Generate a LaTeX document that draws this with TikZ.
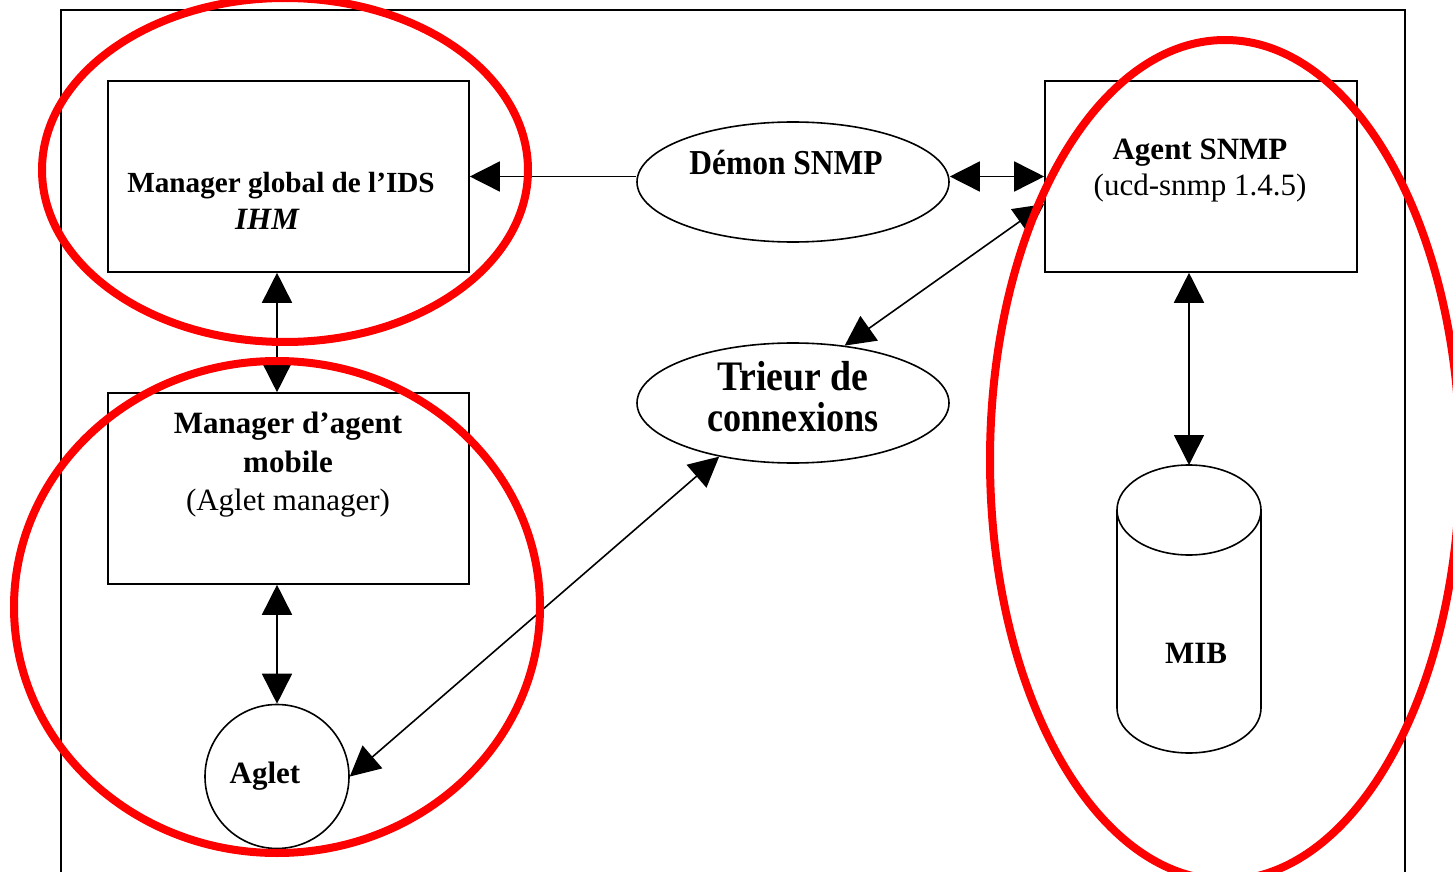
\documentclass[tikz,border=0pt]{standalone}
\usepackage{fontspec}
\setmainfont{Liberation Serif}
\usepackage{graphicx}
\usetikzlibrary{arrows.meta,shapes.geometric}
\tikzset{
  boxst/.style={draw, line width=0.8pt, inner sep=0pt, minimum height=95.5pt},
  ellst/.style={draw, ellipse, line width=0.8pt, inner sep=0pt, minimum width=156pt, minimum height=60pt},
  lbl/.style={anchor=base, inner sep=0pt, font=\fontsize{15.5}{18}\selectfont\bfseries},
  lblr/.style={anchor=base, inner sep=0pt, font=\fontsize{15.5}{18}\selectfont},
  arr/.style={line width=0.8pt, {Triangle[length=15pt,width=15pt]}-{Triangle[length=15pt,width=15pt]}},
  arrone/.style={line width=0.8pt, -{Triangle[length=15pt,width=15pt]}},
  ring/.style={draw=red, line width=4pt}
}
\begin{document}
\begin{tikzpicture}[x=0.5pt,y=-0.5pt]
\useasboundingbox (0,0) rectangle (1453,872);
\clip (0,0) rectangle (1453,872);
% outer frame
\draw[line width=1pt] (61,900) -- (61,10) -- (1405,10) -- (1405,900);

% boxes
\node[boxst, minimum width=180.5pt] (mgb) at (288.5,176.5) {};
\node[boxst, minimum width=180.5pt] (mga) at (288.5,488.5) {};
\node[boxst, minimum width=156pt] (agent) at (1201,176.5) {};
\node[ellst] (demon) at (793,182) {};
\node[ellst] (trieur) at (793,403) {};
\node[draw, circle, line width=0.8pt, inner sep=0pt, minimum size=72pt] (aglet) at (277,776.5) {};

% cylinder MIB
\draw[line width=0.8pt] (1117,510) -- (1117,708) arc[start angle=180,end angle=360,x radius=36pt,y radius=22.5pt] -- (1261,510);
\draw[line width=0.8pt] (1189,510) ellipse[x radius=36pt,y radius=22.5pt];
\coordinate (mib) at (1189,465);

% texts
\node[lbl, font=\fontsize{14.6}{18}\selectfont\bfseries] (t1) at (281,193) {Manager global de l’IDS};
\node[lbl, font=\fontsize{15.5}{18}\selectfont\bfseries\itshape] (t2) at (267,230) {IHM};
\node[lbl] (t3) at (288,433) {Manager d’agent};
\node[lbl] (t4) at (288,472) {mobile};
\node[lblr] (t5) at (288,510) {(Aglet manager)};
\node[lbl] (t6) at (1200,160) {Agent SNMP};
\node[lblr] (t7) at (1200,196) {(ucd-snmp 1.4.5)};
\node[lbl] (t8) at (1196,663) {MIB};
\node[lbl] (t9) at (265,783) {Aglet};
\node[lbl, font=\fontsize{17.5}{20}\selectfont\bfseries] (t10) at (786,175) {\scalebox{0.9}[1]{Démon SNMP}};
\node[lbl, font=\fontsize{21}{24}\selectfont\bfseries] (t11) at (793,390) {\scalebox{0.9}[1]{Trieur de}};
\node[lbl, font=\fontsize{21}{24}\selectfont\bfseries] (t12) at (793,431) {\scalebox{0.86}[1]{connexions}};

% connectors
\draw[arrone] (mgb.east -| demon.west) -- (mgb.east);
\draw[arr] (agent.west -| demon.east) -- (agent.west);
\draw[arr] (agent.190) -- (trieur.48);
\draw[arr] (mgb.south -| aglet.center) -- (mga.north -| aglet.center);
\draw[arr] (mga.south -| aglet.center) -- (aglet.north);
\draw[arr] (aglet.east) -- (trieur.216);
\draw[arr] (agent.south -| mib) -- (mib);

% red highlight rings
\draw[ring] (285,170) ellipse[x radius=121.5pt, y radius=86pt];
\draw[ring] (277,607) ellipse[x radius=131.5pt, y radius=123pt];
\draw[ring] (1225,460) ellipse[x radius=117.5pt, y radius=210pt];
\end{tikzpicture}
\end{document}
